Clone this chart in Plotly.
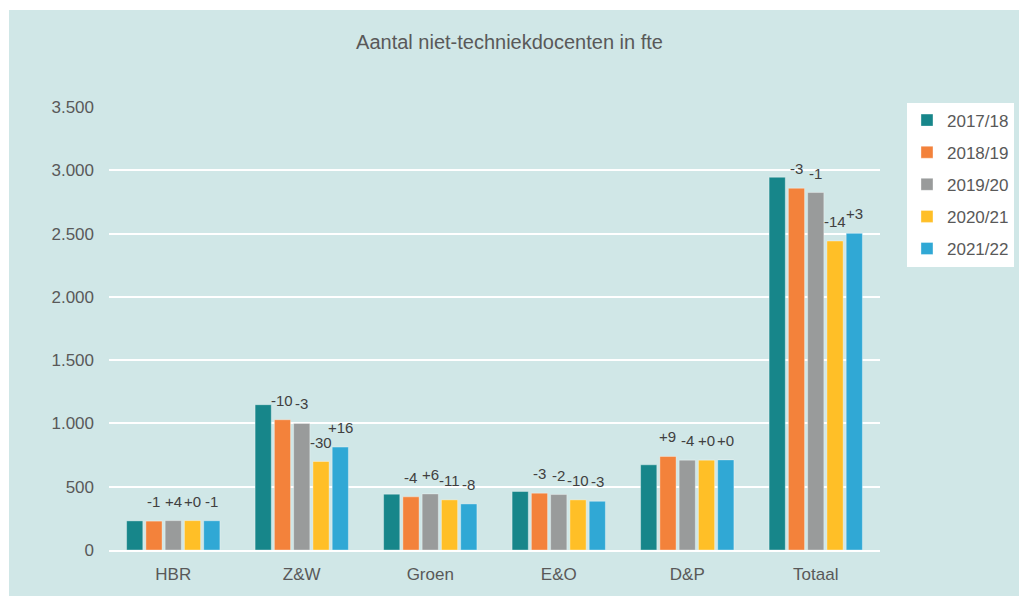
from plotly import graph_objects as go

categorieen = ['HBR', 'Z&W', 'Groen', 'E&O', 'D&P', 'Totaal']
jaren = ['2017/18', '2018/19', '2019/20', '2020/21', '2021/22']

fte_1718 = [230, 1148, 441, 462, 673, 2945]
fte_1819 = [228, 1029, 420, 449, 739, 2858]
fte_1920 = [232, 1000, 443, 438, 710, 2824]
fte_2021 = [232, 699, 396, 396, 710, 2441]
fte_2122 = [231, 813, 364, 385, 712, 2502]

lbl_1718 = ['', '', '', '', '', '']
lbl_1819 = ['-1', '-10', '-4', '-3', '+9', '-3']
lbl_1920 = ['+4', '-3', '+6', '-2', '-4', '-1']
lbl_2021 = ['+0', '-30', '-11', '-10', '+0', '-14']
lbl_2122 = ['-1', '+16', '-8', '-3', '+0', '+3']

kleuren = ['#17868A', '#F3823B', '#999B9B', '#FFBF27', '#30A8D5']

reeksen = [fte_1718, fte_1819, fte_1920, fte_2021, fte_2122]
labels = [lbl_1718, lbl_1819, lbl_1920, lbl_2021, lbl_2122]

bargap = 0.25
slot = (1 - bargap) / len(jaren)

fig = go.Figure()
annotaties = []
for i, (jaar, waarden, tekst, kleur) in enumerate(zip(jaren, reeksen, labels, kleuren)):
    fig.add_trace(go.Bar(
        x=categorieen, y=waarden, name=jaar, legendgroup=jaar,
        marker_color=kleur,
        marker_line=dict(color='rgba(255,255,255,0.35)', width=1),
    ))
    # labels boven de staven (verschil in %)
    for j, (w, t) in enumerate(zip(waarden, tekst)):
        if t:
            annotaties.append(dict(
                x=j + (i - (len(jaren) - 1) / 2) * slot, y=w, xref='x', yref='y',
                text=t, showarrow=False, yanchor='bottom', yshift=9,
                font=dict(family='Liberation Sans, Arial', size=15, color='#404040'),
            ))

fig.update_layout(
    width=1019, height=596,
    margin=dict(l=109, r=139, t=107, b=46, autoexpand=False),
    paper_bgcolor='white',
    plot_bgcolor='rgba(0,0,0,0)',
    separators=',.',
    font=dict(family='Liberation Sans, Arial', size=17, color='#595959'),
    title=dict(text='Aantal niet-techniekdocenten in fte', x=0.5, xref='container',
               xanchor='center', y=0.93, yanchor='middle',
               font=dict(size=20, color='#595959')),
    barmode='group', bargap=bargap, bargroupgap=0.16,
    legend=dict(x=1.035, y=1.01, xanchor='left', yanchor='top',
                bgcolor='white', traceorder='grouped', tracegroupgap=7,
                font=dict(size=17, color='#595959')),
    annotations=annotaties,
    shapes=[dict(type='rect', xref='paper', yref='paper', x0=-0.1297, x1=1.2,
                 y0=-0.2, y1=1.219, fillcolor='#D0E7E7', line_width=0, layer='below')],
)
fig.update_yaxes(range=[0, 3500], dtick=500, tickformat=',d', showgrid=True,
                 gridcolor='white', gridwidth=2, zeroline=False, ticklabelstandoff=14)
fig.update_xaxes(showline=True, linecolor='white', linewidth=2, ticks='',
                 ticklabelstandoff=8)

fig.write_html('out.html', config={'displayModeBar': False},
               post_script="document.body.style.margin='0';"
                           "document.body.style.overflow='hidden';")
